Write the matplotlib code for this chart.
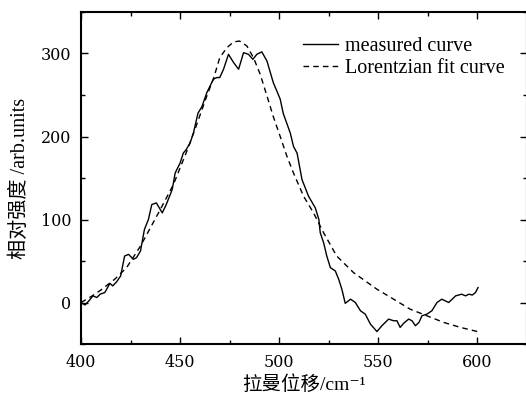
import matplotlib
matplotlib.use('Agg')
import matplotlib.pyplot as plt
from matplotlib.ticker import MultipleLocator

# measured spectrum
meas_x = [400, 402, 404, 406, 408, 409.6, 412, 414.6, 416, 418, 420, 422, 424, 426.4,
          428, 430, 432, 434, 435.7, 438, 441, 443, 446, 447.5, 450, 451.6, 453,
          455, 456.7, 459, 461, 463.5, 466.8, 468.5, 470, 471.9, 474.4, 477, 479.5,
          482, 484.5, 486.7, 488.7, 491.2, 493.8, 497, 500.5, 502, 505.6, 507.2, 509,
          511.5, 514.8, 518.2, 520, 520.7, 522.4, 524, 525.8, 528.3, 530, 531.6, 533.3,
          536, 538.4, 541, 543.4, 546, 549.3, 551.8, 555.2, 557.7, 559.4, 561, 562.8,
          565.3, 567, 568.7, 570.5, 572, 574.5, 577, 579.6, 582, 585.5, 589, 592, 594,
          595.7, 597.4, 599, 600.3]
meas_y = [0, -3, 2, 8, 6, 10, 12, 23, 20, 25, 32, 56, 58, 52, 54, 62, 88, 100, 118, 120,
          108, 118, 136, 156, 168, 180, 184, 192, 204, 228, 236, 253, 269, 271, 271, 281,
          299, 289, 281, 301, 299, 293, 299, 302, 291, 265, 245, 228, 204, 188, 180, 148,
          128, 114, 100, 84, 72, 56, 42, 38, 28, 16, -1, 4, 0, -10, -14, -26, -35, -28,
          -20, -22, -22, -30, -25, -20, -22, -28, -24, -16, -14, -10, 0, 4, 0, 8, 10, 8,
          10, 9, 12, 18]

# Lorentzian fit curve
fit_x = [400, 405, 410, 417, 423, 430, 440, 446.6, 453, 458, 463.5, 467, 470, 473.6,
         477, 480, 483.7, 487, 490.4, 493.8, 497, 500.5, 503.9, 507.2, 512.3, 517.3,
         522.4, 529, 537.5, 549.3, 557.7, 566, 574.5, 583, 591.4, 600]
fit_y = [0, 7, 15, 28, 42, 68, 112, 142, 180, 212, 249, 271, 295, 307, 314, 315, 309,
         295, 275, 249, 224, 200, 176, 156, 128, 108, 84, 56, 36, 16, 4, -8, -16, -24,
         -30, -35]

serif_cjk = ['Liberation Serif', 'Noto Sans CJK SC', 'DejaVu Serif']

fig = plt.figure(figsize=(5.26, 4.01), dpi=100)
ax = fig.add_axes([81 / 526, 1 - 344 / 401, 446 / 526, 332 / 401])

ax.plot(meas_x, meas_y, color='black', lw=1.0, label='measured curve')
ax.plot(fit_x, fit_y, color='black', lw=1.0, ls=(0, (4, 3)), label='Lorentzian fit curve')

ax.set_xlim(400, 625)
ax.set_ylim(-50, 350)
ax.xaxis.set_major_locator(MultipleLocator(50))
ax.xaxis.set_minor_locator(MultipleLocator(25))
ax.yaxis.set_major_locator(MultipleLocator(100))
ax.yaxis.set_minor_locator(MultipleLocator(50))
ax.tick_params(which='both', direction='in', top=True, right=True, width=1.0)
ax.tick_params(which='major', length=5, labelsize=11.5, pad=7)
ax.tick_params(which='minor', length=3)
for lab in ax.get_xticklabels() + ax.get_yticklabels():
    lab.set_family('DejaVu Serif')
for s in ax.spines.values():
    s.set_linewidth(1.5)

ax.set_xlabel('拉曼位移/cm⁻¹', family=serif_cjk, fontsize=14, labelpad=3)
ax.set_ylabel('相对强度 /arb.units', family=serif_cjk, fontsize=14.5, labelpad=8)

leg = ax.legend(loc='upper right', bbox_to_anchor=(0.99, 0.98), frameon=False,
                prop={'family': 'Liberation Serif', 'size': 14.5},
                handlelength=1.7, handletextpad=0.35, labelspacing=0.15)

fig.savefig('out.png', dpi=100)
